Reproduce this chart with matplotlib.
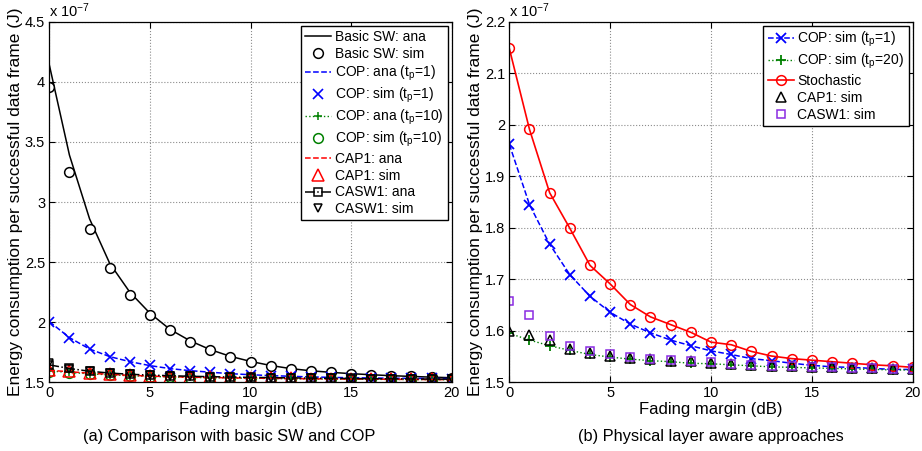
import matplotlib
matplotlib.use("Agg")
import matplotlib.pyplot as plt
import numpy as np

plt.rcParams.update({
    "font.family": ["Liberation Sans", "DejaVu Sans"],
    "mathtext.fontset": "custom",
    "mathtext.rm": "Liberation Sans",
    "mathtext.it": "Liberation Sans",
    "font.size": 10,
    "axes.linewidth": 0.9,
})

# fading margin (dB)
margin = np.arange(0, 21)

# (a) energy per successful frame, units of 1e-7 J
basic_ana = [4.14, 3.39, 2.86, 2.49, 2.25, 2.075, 1.94, 1.845, 1.772, 1.716, 1.674,
             1.640, 1.614, 1.596, 1.583, 1.572, 1.563, 1.555, 1.549, 1.543, 1.538]
basic_sim = [3.954, 3.247, 2.773, 2.454, 2.224, 2.060, 1.933, 1.838, 1.769, 1.714, 1.672,
             1.638, 1.612, 1.594, 1.582, 1.572, 1.563, 1.556, 1.550, 1.545, 1.540]
cop1_ana = [2.005, 1.872, 1.777, 1.714, 1.672, 1.639, 1.614, 1.597, 1.584, 1.572, 1.563,
            1.556, 1.550, 1.545, 1.541, 1.538, 1.536, 1.534, 1.533, 1.532, 1.531]
cop1_sim = [2.002, 1.870, 1.778, 1.713, 1.670, 1.640, 1.613, 1.596, 1.583, 1.571, 1.562,
            1.555, 1.549, 1.545, 1.541, 1.538, 1.536, 1.534, 1.533, 1.532, 1.531]
cop10_ana = [1.595, 1.582, 1.571, 1.562, 1.555, 1.549, 1.545, 1.541, 1.538, 1.536, 1.534,
             1.532, 1.530, 1.528, 1.527, 1.526, 1.525, 1.524, 1.523, 1.522, 1.521]
cop10_sim = [1.588, 1.577, 1.565, 1.558, 1.551, 1.546, 1.542, 1.539, 1.536, 1.534, 1.532,
             1.530, 1.528, 1.527, 1.526, 1.525, 1.524, 1.523, 1.522, 1.521, 1.520]
cap1_ana = [1.600, 1.588, 1.576, 1.566, 1.558, 1.552, 1.547, 1.543, 1.540, 1.537, 1.535,
            1.533, 1.531, 1.529, 1.528, 1.527, 1.526, 1.525, 1.524, 1.523, 1.522]
cap1_sim = [1.603, 1.590, 1.580, 1.566, 1.559, 1.553, 1.548, 1.544, 1.541, 1.538, 1.536,
            1.534, 1.532, 1.530, 1.529, 1.528, 1.527, 1.526, 1.525, 1.524, 1.523]
casw1_ana = [1.645, 1.615, 1.592, 1.577, 1.567, 1.560, 1.555, 1.550, 1.547, 1.544, 1.541,
             1.539, 1.537, 1.535, 1.533, 1.532, 1.530, 1.529, 1.528, 1.527, 1.526]
casw1_sim = [1.660, 1.612, 1.590, 1.575, 1.565, 1.558, 1.553, 1.549, 1.546, 1.543, 1.540,
             1.538, 1.536, 1.534, 1.532, 1.531, 1.529, 1.528, 1.527, 1.526, 1.525]

# (b) physical layer aware approaches, units of 1e-7 J
cop1_b = [1.962, 1.845, 1.768, 1.709, 1.667, 1.636, 1.613, 1.596, 1.582, 1.571, 1.561,
          1.554, 1.546, 1.542, 1.537, 1.533, 1.530, 1.529, 1.527, 1.525, 1.525]
cop20_b = [1.595, 1.582, 1.571, 1.562, 1.554, 1.549, 1.545, 1.542, 1.540, 1.537, 1.536,
           1.534, 1.532, 1.530, 1.529, 1.528, 1.527, 1.526, 1.525, 1.524, 1.524]
stoch_b = [2.148, 1.991, 1.868, 1.799, 1.727, 1.691, 1.651, 1.627, 1.612, 1.597, 1.578,
           1.573, 1.560, 1.551, 1.546, 1.543, 1.540, 1.537, 1.534, 1.532, 1.529]
cap1_b = [1.600, 1.592, 1.582, 1.565, 1.556, 1.551, 1.547, 1.545, 1.542, 1.541, 1.538,
          1.536, 1.534, 1.532, 1.531, 1.530, 1.529, 1.528, 1.527, 1.526, 1.526]
casw1_b = [1.657, 1.630, 1.589, 1.571, 1.560, 1.554, 1.549, 1.546, 1.544, 1.541, 1.539,
           1.536, 1.534, 1.532, 1.531, 1.530, 1.529, 1.528, 1.527, 1.526, 1.526]

PURPLE = "#8a2be2"


def style_axes(ax, ylim, yticks, ylabels):
    ax.set_xlim(0, 20)
    ax.set_ylim(*ylim)
    ax.set_xticks([0, 5, 10, 15, 20])
    ax.set_yticks(yticks)
    ax.set_yticklabels(ylabels)
    ax.grid(True, color="0.55", linestyle=":", linewidth=0.8)
    ax.tick_params(direction="in", length=4, width=0.8, top=True, right=True,
                   labelsize=10.5, pad=3)
    ax.set_xlabel("Fading margin (dB)", fontsize=12, labelpad=1)
    ax.set_ylabel("Energy consumption per successful data frame (J)", fontsize=12.5)
    ax.yaxis.set_label_coords(-0.066, 0.5)
    ax.text(0.0, 1.005, r"x 10$^{-7}$", transform=ax.transAxes, fontsize=10.5,
            ha="left", va="bottom")


def add_legend(ax):
    leg = ax.legend(loc="upper right", fontsize=10, frameon=True, fancybox=False,
                    edgecolor="black", framealpha=1, handlelength=1.9,
                    handletextpad=0.25, labelspacing=0.2, borderpad=0.3,
                    borderaxespad=0.3)
    leg.get_frame().set_linewidth(1.0)
    return leg


fig = plt.figure(figsize=(9.22, 4.51), dpi=100)
ax1 = fig.add_axes([0.0535, 0.1523, 0.4364, 0.7996])
ax2 = fig.add_axes([0.5524, 0.1523, 0.4375, 0.7996])

# ---- (a) ----
ax1.plot(margin, basic_ana, "-", color="black", lw=1.1, label="Basic SW: ana")
ax1.plot(margin, basic_sim, "o", mfc="white", mec="black", mew=1.1, ms=7,
         linestyle="none", label="Basic SW: sim")
ax1.plot(margin, cop1_ana, "--", color="blue", lw=1.1, label=r"COP: ana (t$_\mathregular{p}$=1)")
ax1.plot(margin, cop1_sim, "x", color="blue", mew=1.2, ms=6.5, linestyle="none",
         label=r"COP: sim (t$_\mathregular{p}$=1)")
ax1.plot(margin, cop10_ana, ":", color="green", marker="+", ms=6, mew=1.1, lw=1.0,
         label=r"COP: ana (t$_\mathregular{p}$=10)")
ax1.plot(margin, cop10_sim, "o", mfc="none", mec="green", mew=1.1, ms=7,
         linestyle="none", label=r"COP: sim (t$_\mathregular{p}$=10)")
ax1.plot(margin, cap1_ana, "--", color="red", lw=1.1, label="CAP1: ana")
ax1.plot(margin, cap1_sim, "^", mfc="none", mec="red", mew=1.1, ms=8,
         linestyle="none", label="CAP1: sim")
ax1.plot(margin, casw1_ana, "-.", color="black", marker="s", mfc="none", ms=6,
         mew=1.1, lw=1.1, label="CASW1: ana")
ax1.plot(margin, casw1_sim, "v", mfc="none", mec="black", mew=1.1, ms=6,
         linestyle="none", label="CASW1: sim")

style_axes(ax1, (1.5, 4.5), [1.5, 2, 2.5, 3, 3.5, 4, 4.5],
           ["1.5", "2", "2.5", "3", "3.5", "4", "4.5"])
add_legend(ax1)

# ---- (b) ----
ax2.plot(margin, cop1_b, "--", color="blue", marker="x", ms=6.5, mew=1.3, lw=1.1,
         label=r"COP: sim (t$_\mathregular{p}$=1)")
ax2.plot(margin, cop20_b, ":", color="green", marker="+", ms=6.5, mew=1.3, lw=1.0,
         label=r"COP: sim (t$_\mathregular{p}$=20)")
ax2.plot(margin, stoch_b, "-", color="red", marker="o", mfc="none", ms=7, mew=1.1,
         lw=1.2, label="Stochastic")
ax2.plot(margin, cap1_b, "^", mfc="none", mec="black", mew=1.1, ms=6.5,
         linestyle="none", label="CAP1: sim")
ax2.plot(margin, casw1_b, "s", mfc="none", mec=PURPLE, mew=1.1, ms=5.5,
         linestyle="none", label="CASW1: sim")

style_axes(ax2, (1.5, 2.2), [1.5, 1.6, 1.7, 1.8, 1.9, 2.0, 2.1, 2.2],
           ["1.5", "1.6", "1.7", "1.8", "1.9", "2", "2.1", "2.2"])
add_legend(ax2)

fig.text(0.249, 0.0317, "(a) Comparison with basic SW and COP", ha="center",
         va="center", fontsize=11.8)
fig.text(0.771, 0.0317, "(b) Physical layer aware approaches", ha="center",
         va="center", fontsize=11.8)

fig.savefig("out.png", dpi=100)
